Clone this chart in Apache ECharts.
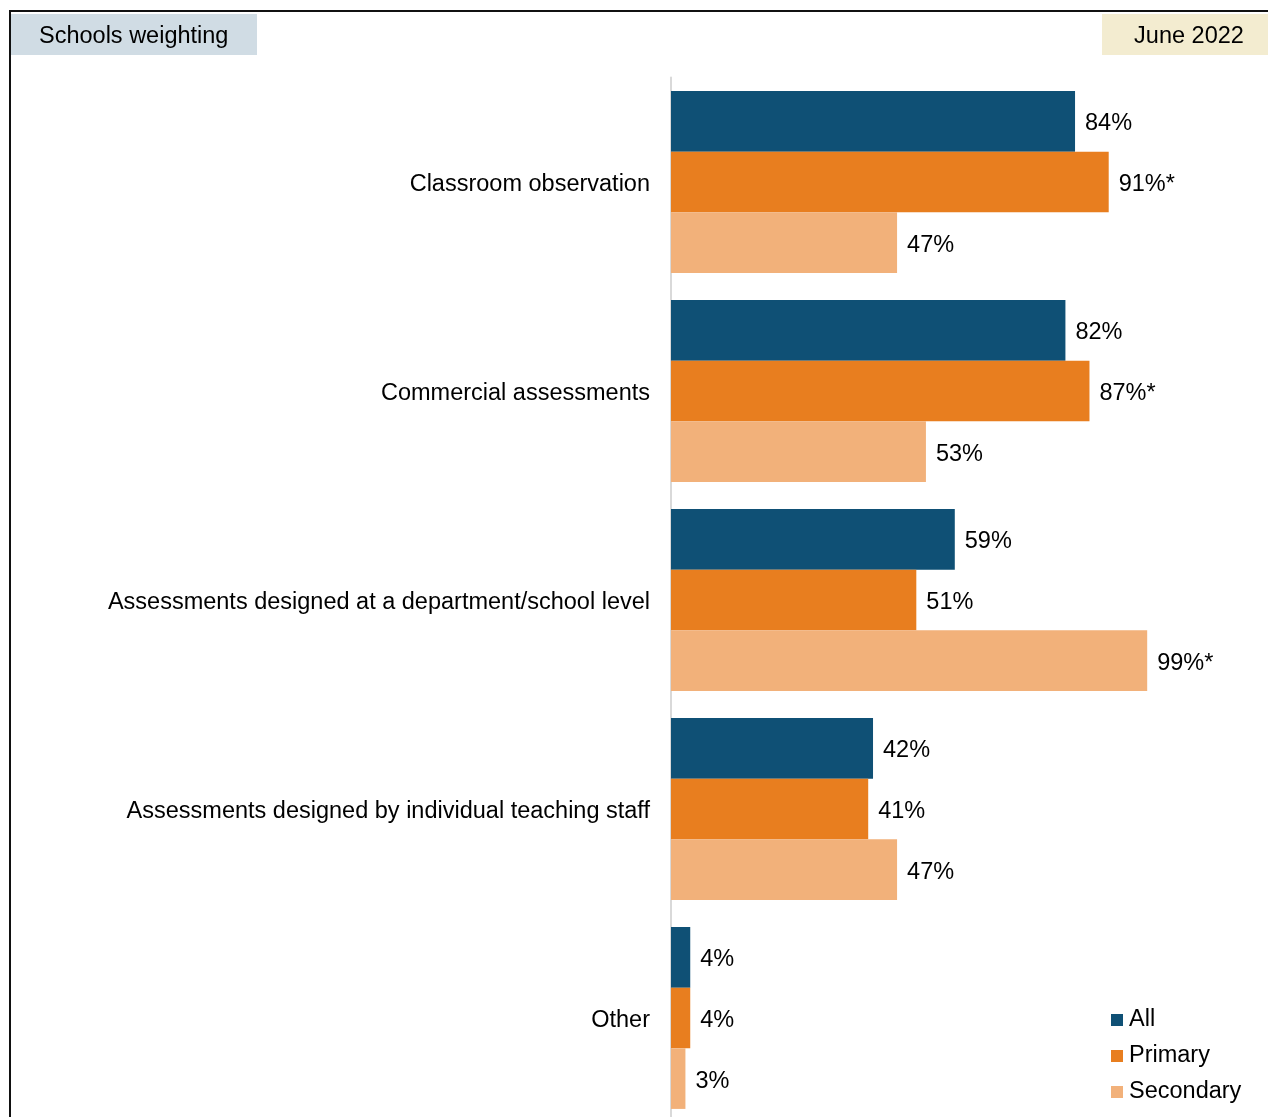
<!DOCTYPE html>
<html>
<head>
<meta charset="utf-8">
<style>
  html, body { margin: 0; padding: 0; background: #fff; overflow: hidden; }
  /* the last category runs slightly past the bottom of the page */
  #chart { width: 1268px; height: 1140px; }
</style>
<script src="https://cdn.jsdelivr.net/npm/echarts@6/dist/echarts.min.js"></script>
</head>
<body>
<div id="chart"></div>
<script>
// Assessment methods used by schools, % of schools (schools weighting)
const categories = [
  'Classroom observation',
  'Commercial assessments',
  'Assessments designed at a department/school level',
  'Assessments designed by individual teaching staff',
  'Other'
];
const allValues       = [84, 82, 59, 42, 4];
const primaryValues   = [91, 87, 51, 41, 4];
const secondaryValues = [47, 53, 99, 47, 3];
// Significant differences are flagged with an asterisk
const allFlags       = [false, false, false, false, false];
const primaryFlags   = [true, true, false, false, false];
const secondaryFlags = [false, false, true, false, false];

const FONT = '"Liberation Sans", Arial, sans-serif';
const FS = 23.5;
const colors = { all: '#0f5075', primary: '#e87e1f', secondary: '#f2b17a' };

function makeSeries(name, values, flags, color) {
  return {
    name: name,
    type: 'bar',
    data: values,
    barGap: '0%',
    barCategoryGap: '13%',
    itemStyle: { color: color },
    label: {
      show: true,
      position: 'right',
      distance: 10,
      offset: [0, 2.5],
      color: '#000',
      fontFamily: FONT,
      fontSize: FS,
      formatter: p => p.value + '%' + (flags[p.dataIndex] ? '*' : '')
    },
    emphasis: { disabled: true }
  };
}

const chart = echarts.init(document.getElementById('chart'), null, { renderer: 'canvas' });
chart.setOption({
  animation: false,
  textStyle: { fontFamily: FONT },
  grid: { left: 671, width: 481, top: 77.5, height: 1045, containLabel: false },
  xAxis: {
    type: 'value', min: 0, max: 100,
    show: false
  },
  yAxis: {
    type: 'category',
    data: categories,
    inverse: true,
    axisLine: { show: true, lineStyle: { color: '#d9d9d9', width: 2 } },
    axisTick: { show: false },
    axisLabel: {
      color: '#000', fontFamily: FONT, fontSize: FS, margin: 21,
      formatter: v => '{c|' + v + '}',
      rich: { c: { color: '#000', fontFamily: FONT, fontSize: FS, padding: [5, 0, 0, 0] } }
    }
  },
  legend: {
    orient: 'vertical',
    left: 1106, top: 1003,
    icon: 'rect',
    itemWidth: 12, itemHeight: 12,
    itemGap: 12,
    textStyle: { color: '#000', fontFamily: FONT, fontSize: FS, padding: [0, 0, 0, 1] },
    selectedMode: false
  },
  graphic: [
    { type: 'line', shape: { x1: 9, y1: 11, x2: 1268, y2: 11 }, style: { stroke: '#111', lineWidth: 2 } },
    { type: 'line', shape: { x1: 10, y1: 10, x2: 10, y2: 1140 }, style: { stroke: '#111', lineWidth: 2 } },
    { type: 'rect', shape: { x: 11, y: 14, width: 246, height: 41 }, style: { fill: '#d0dce4' } },
    { type: 'text', x: 39, y: 37, style: { text: 'Schools weighting', font: FS + 'px ' + FONT, fill: '#000', verticalAlign: 'middle' } },
    { type: 'rect', shape: { x: 1102, y: 14, width: 166, height: 41 }, style: { fill: '#f3ecd0' } },
    { type: 'text', x: 1189, y: 37, style: { text: 'June 2022', font: FS + 'px ' + FONT, fill: '#000', align: 'center', verticalAlign: 'middle' } }
  ],
  series: [
    makeSeries('All', allValues, allFlags, colors.all),
    makeSeries('Primary', primaryValues, primaryFlags, colors.primary),
    makeSeries('Secondary', secondaryValues, secondaryFlags, colors.secondary)
  ]
});
</script>
</body>
</html>
